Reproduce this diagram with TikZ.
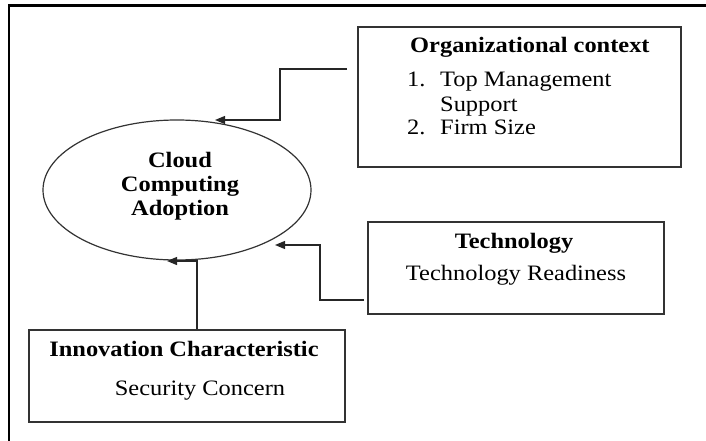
\documentclass[tikz,border=0pt]{standalone}
\usepackage{fontspec}
\setmainfont{Liberation Serif}[FakeStretch=1.11]
\usetikzlibrary{arrows.meta,shapes.geometric}
\begin{document}
\begin{tikzpicture}[x=1pt,y=-1pt,
  box/.style={draw=black!80, line width=1.2pt, minimum width=#1, inner sep=0pt},
  txt/.style={inner sep=0pt, font=\fontsize{22}{26}\selectfont},
  btxt/.style={inner sep=0pt, font=\fontsize{22}{26}\selectfont\bfseries},
  conn/.style={draw=black!85, line width=1.2pt, -{Triangle[length=10pt,width=8pt]}}]
\useasboundingbox (0,0) rectangle (706,441);
% frame
\draw[line width=2.2pt] (9,441) -- (9,5.5) -- (706,5.5);
% boxes
\node[box=323pt, minimum height=140pt] (org) at (519.5,97) {};
\node[box=296pt, minimum height=92pt] (tech) at (516,268) {};
\node[box=316pt, minimum height=92pt] (inn) at (187,376) {};
\node[draw=black!80, line width=1.2pt, ellipse, minimum width=268pt, minimum height=140pt, inner sep=0pt] (cca) at (177,190) {};
% texts
\node[btxt, anchor=base west] (orgt) at (410,53) {Organizational context};
\node[txt, anchor=base west] (n1) at (407,87) {1.};
\node[txt, anchor=base west] (l1) at (440,87) {Top Management};
\node[txt, anchor=base west] (l2) at (440,111) {Support};
\node[txt, anchor=base west] (n2) at (407,135) {2.};
\node[txt, anchor=base west] (l3) at (440,135) {Firm Size};
\node[btxt, anchor=base] (c1) at (180,167) {Cloud};
\node[btxt, anchor=base] (c2) at (180,191) {Computing};
\node[btxt, anchor=base] (c3) at (180,215) {Adoption};
\node[btxt, anchor=base] (tt) at (514,248) {Technology};
\node[txt, anchor=base] (tr) at (516,280) {Technology Readiness};
\node[btxt, anchor=base] (it) at (184,356) {Innovation Characteristic};
\node[txt, anchor=base] (is) at (200,395) {Security Concern};
% connectors
\coordinate (s1) at (347,69);
\coordinate (e1) at (215,120);
\coordinate (s2) at (364,300);
\coordinate (e2) at (275,245);
\coordinate (e3) at (167,261);
\draw[conn] (s1) -- (280,69) -- (280,120) -- (e1);
\draw[conn] (s2) -- (320,300) -- (320,245) -- (e2);
\draw[conn] (197,0 |- inn.north) -- (197,261) -- (e3);
\end{tikzpicture}
\end{document}
